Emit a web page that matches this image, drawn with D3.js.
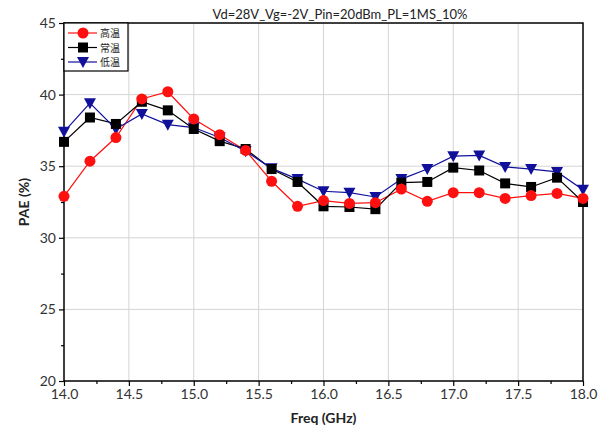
<!DOCTYPE html>
<html>
<head>
<meta charset="utf-8">
<script src="https://cdn.jsdelivr.net/npm/d3@7"></script>
<style>
  body { margin: 0; background: #fff; }
  text { font-family: Lato, "Open Sans", sans-serif; }
</style>
</head>
<body>
<script>
const freq = [14.0,14.2,14.4,14.6,14.8,15.0,15.2,15.4,15.6,15.8,16.0,16.2,16.4,16.6,16.8,17.0,17.2,17.4,17.6,17.8,18.0];
const hot  = [32.9,35.35,37.0,39.7,40.2,38.3,37.2,36.1,33.95,32.2,32.6,32.4,32.45,33.4,32.55,33.15,33.15,32.75,32.95,33.1,32.75];
const room = [36.7,38.4,37.95,39.5,38.9,37.6,36.75,36.2,34.8,33.9,32.2,32.15,32.0,33.85,33.9,34.9,34.7,33.8,33.55,34.2,32.5];
const cold = [37.4,39.4,37.6,38.65,37.9,37.7,37.0,36.05,34.85,34.1,33.25,33.15,32.85,34.1,34.8,35.7,35.75,34.95,34.8,34.6,33.35];
const seriesNames = ["高温","常温","低温"];
const xTicks = [14.0,14.5,15.0,15.5,16.0,16.5,17.0,17.5,18.0];
const yTicks = [20,25,30,35,40,45];
const title = "Vd=28V_Vg=-2V_Pin=20dBm_PL=1MS_10%";

const W = 607, H = 433;
const pL = 64, pR = 583, pT = 23, pB = 381;

const svg = d3.select("body").append("svg").attr("width", W).attr("height", H);

const x = d3.scaleLinear().domain([14, 18]).range([pL, pR]);
const y = d3.scaleLinear().domain([20, 45]).range([pB, pT]);

// grid
svg.append("g").selectAll("line").data(xTicks.slice(1, -1)).enter().append("line")
  .attr("x1", d => x(d)).attr("x2", d => x(d)).attr("y1", pT).attr("y2", pB)
  .attr("stroke", "#d4d4d4").attr("stroke-width", 1);
svg.append("g").selectAll("line").data(yTicks.slice(1, -1)).enter().append("line")
  .attr("x1", pL).attr("x2", pR).attr("y1", d => y(d)).attr("y2", d => y(d))
  .attr("stroke", "#d4d4d4").attr("stroke-width", 1);

// frame
svg.append("rect").attr("x", pL).attr("y", pT).attr("width", pR - pL).attr("height", pB - pT)
  .attr("fill", "none").attr("stroke", "#000").attr("stroke-width", 1.5);

// axes
svg.append("g").attr("transform", "translate(0," + pB + ")")
  .call(d3.axisBottom(x).tickValues(xTicks).tickFormat(d3.format(".1f")).tickSize(5).tickPadding(3));
svg.append("g").attr("transform", "translate(0," + pB + ")")
  .call(d3.axisBottom(x).tickValues(d3.range(14.25, 18, 0.5)).tickFormat("").tickSize(3));
svg.append("g").attr("transform", "translate(" + pL + ",0)")
  .call(d3.axisLeft(y).tickValues(yTicks).tickSize(5).tickPadding(3));
svg.append("g").attr("transform", "translate(" + pL + ",0)")
  .call(d3.axisLeft(y).tickValues(d3.range(22.5, 45, 5)).tickFormat("").tickSize(3));
svg.selectAll(".domain").remove();
svg.selectAll(".tick line").attr("stroke", "#000").attr("stroke-width", 1.2);
svg.selectAll(".tick text").attr("fill", "#333").style("font-size", "14px");

// labels
svg.append("text").attr("x", (pL + pR) / 2).attr("y", 423).attr("text-anchor", "middle")
  .style("font-size", "14px").style("font-weight", "bold").attr("fill", "#222").text("Freq (GHz)");
svg.append("text").attr("transform", "translate(29," + ((pT + pB) / 2) + ") rotate(-90)")
  .attr("text-anchor", "middle").style("font-size", "14px").style("font-weight", "bold")
  .attr("fill", "#222").text("PAE (%)");
svg.append("text").attr("x", 340).attr("y", 19).attr("text-anchor", "middle")
  .style("font-size", "13px").attr("fill", "#222").text(title);

const series = [
  { name: seriesNames[0], values: hot, color: "#ff1010", shape: "circle" },
  { name: seriesNames[1], values: room, color: "#000000", shape: "square" },
  { name: seriesNames[2], values: cold, color: "#10109a", shape: "triangle" }
];

function marker(g, shape, color) {
  if (shape === "circle") g.append("circle").attr("r", 5.5).attr("fill", color);
  else if (shape === "square") g.append("rect").attr("x", -5).attr("y", -5).attr("width", 10).attr("height", 10).attr("fill", color);
  else g.append("path").attr("d", "M-6,-5L6,-5L0,6Z").attr("fill", color);
}

const line = d3.line().x((d, i) => x(freq[i])).y(d => y(d));

series.forEach(s => {
  svg.append("path").datum(s.values).attr("d", line).attr("fill", "none")
    .attr("stroke", s.color).attr("stroke-width", 1.2);
});
series.slice().reverse().forEach(s => {
  s.values.forEach((v, i) => {
    const g = svg.append("g").attr("transform", "translate(" + x(freq[i]) + "," + y(v) + ")");
    marker(g, s.shape, s.color);
  });
});

// legend
const lg = svg.append("g");
lg.append("rect").attr("x", pL).attr("y", pT).attr("width", 64).attr("height", 48)
  .attr("fill", "#fff").attr("stroke", "#000").attr("stroke-width", 1.2);
series.forEach((s, i) => {
  const ly = 33 + i * 14.5;
  lg.append("line").attr("x1", 68).attr("x2", 97).attr("y1", ly).attr("y2", ly)
    .attr("stroke", s.color).attr("stroke-width", 1.2);
  const g = lg.append("g").attr("transform", "translate(83," + ly + ")");
  marker(g, s.shape, s.color);
  lg.append("text").attr("x", 100).attr("y", ly + 4).style("font-size", "10px")
    .style("font-family", "'Noto Sans CJK SC', sans-serif").attr("fill", "#222").text(s.name);
});
</script>
</body>
</html>
